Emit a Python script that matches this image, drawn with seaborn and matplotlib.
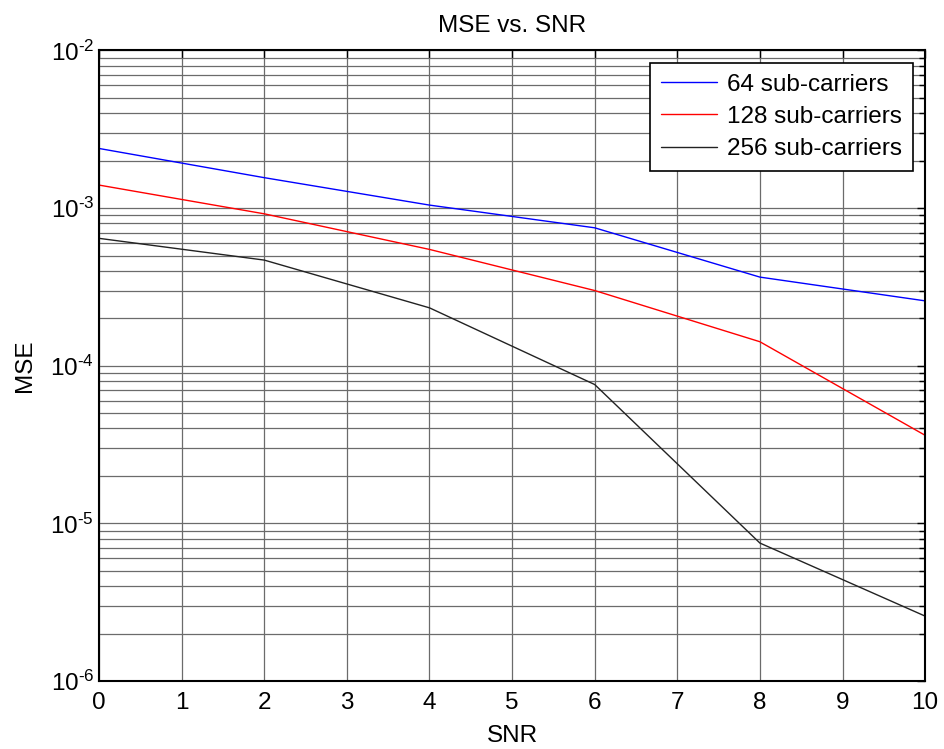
import numpy as np
import pandas as pd
import matplotlib
matplotlib.use("Agg")
import matplotlib.pyplot as plt
import seaborn as sns
from matplotlib.ticker import LogLocator, NullFormatter, FixedLocator, FuncFormatter

# SNR sample points and MSE for each sub-carrier count
snr = [0, 2, 4, 6, 8, 10]
mse_64 = [2.39e-3, 1.56e-3, 1.045e-3, 7.5e-4, 3.65e-4, 2.58e-4]
mse_128 = [1.40e-3, 9.2e-4, 5.47e-4, 3.0e-4, 1.42e-4, 3.62e-5]
mse_256 = [6.43e-4, 4.68e-4, 2.33e-4, 7.6e-5, 7.5e-6, 2.58e-6]
series_names = ["64 sub-carriers", "128 sub-carriers", "256 sub-carriers"]
xticks = list(range(0, 11))

df = pd.concat([
    pd.DataFrame({"SNR": snr, "MSE": vals, "series": name})
    for name, vals in zip(series_names, [mse_64, mse_128, mse_256])
])

FS = 17.5
sns.set_style("white", {"text.color": "black", "axes.labelcolor": "black",
                        "xtick.color": "black", "ytick.color": "black"})
plt.rcParams["font.family"] = ["Liberation Sans", "DejaVu Sans"]
plt.rcParams["mathtext.fontset"] = "custom"
plt.rcParams["mathtext.rm"] = "Liberation Sans"
plt.rcParams["mathtext.it"] = "Liberation Sans:italic"
plt.rcParams["mathtext.bf"] = "Liberation Sans:bold"
plt.rcParams["font.size"] = FS

fig = plt.figure(figsize=(9.44, 7.49), dpi=100)
ax = fig.add_axes([0.1049, 0.0908, 0.8751, 0.8418])

palette = {"64 sub-carriers": "#0000ff", "128 sub-carriers": "#ff0000",
           "256 sub-carriers": "#222222"}
sns.lineplot(data=df, x="SNR", y="MSE", hue="series", palette=palette,
             ax=ax, linewidth=1.0, legend=False, sort=False)

ax.set_yscale("log")
ax.set_ylim(1e-6, 1e-2)
ax.set_xlim(0, 10)
ax.xaxis.set_major_locator(FixedLocator(xticks))
ax.yaxis.set_major_locator(LogLocator(base=10, numticks=10))
ax.yaxis.set_minor_locator(LogLocator(base=10, subs=np.arange(2, 10), numticks=50))
ax.yaxis.set_minor_formatter(NullFormatter())


def pow10_label(v, pos):
    n = int(round(np.log10(v)))
    sign = r"\text{-}" if n < 0 else ""
    return rf"$\mathregular{{10^{{{sign}{abs(n)}}}}}$"


ax.yaxis.set_major_formatter(FuncFormatter(pow10_label))

ax.grid(True, which="major", axis="both", color="0.42", linewidth=0.9)
ax.grid(True, which="minor", axis="y", color="0.42", linewidth=0.9)
ax.set_axisbelow(True)

ax.tick_params(which="both", direction="in", top=True, right=True, labelsize=FS,
               colors="black")
ax.tick_params(which="major", length=6, width=1.0)
ax.tick_params(which="minor", length=4, width=1.0)
ax.tick_params(axis="x", which="major", pad=8)
for s in ax.spines.values():
    s.set_color("black")
    s.set_linewidth(1.5)

ax.set_title("MSE vs. SNR", fontsize=FS, pad=13, color="black")
ax.set_xlabel("SNR", fontsize=FS, labelpad=8, color="black")
ax.set_ylabel("MSE", fontsize=FS, labelpad=10, color="black")

handles = [plt.Line2D([], [], color=palette[n], linewidth=1.0) for n in series_names]
leg = ax.legend(handles, series_names, loc="upper right", fontsize=FS,
                frameon=True, fancybox=False, framealpha=1, edgecolor="black",
                borderaxespad=0.5, handlelength=2.3, handletextpad=0.4,
                labelspacing=0.42, borderpad=0.45)
leg.get_frame().set_linewidth(1.2)
for t in leg.get_texts():
    t.set_color("black")

fig.savefig("out.png", dpi=100)
